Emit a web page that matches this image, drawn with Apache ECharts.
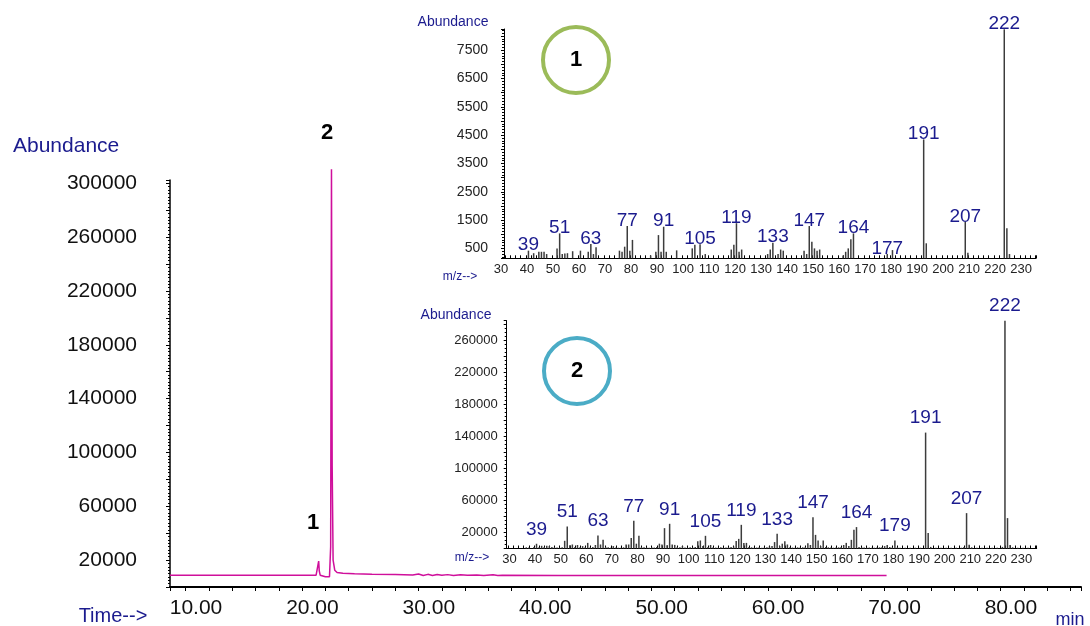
<!DOCTYPE html>
<html>
<head>
<meta charset="utf-8">
<title>GC-MS</title>
<script src="https://cdn.jsdelivr.net/npm/echarts@6/dist/echarts.min.js"></script>
<style>
  html, body { margin: 0; padding: 0; background: #fff; }
  #chart { width: 1090px; height: 626px; }
</style>
</head>
<body>
<div id="chart"></div>
<script>
// total ion chromatogram: retention time (min) / abundance
const rtMin = [6.65, 12, 19.2, 19.35, 19.42, 19.47, 19.55, 19.7, 20.0, 20.35, 20.45, 20.52, 20.58, 20.66, 20.8, 21.0, 21.5, 22.5, 24, 26, 27.5, 28, 28.4, 28.8, 29.2, 29.6, 30, 30.5, 31, 31.6, 32.2, 33, 33.6, 34.4, 34.8, 35.2, 40, 50, 60, 68.2]
const tic = [8800, 8800, 8800, 9500, 19200, 12000, 8800, 7700, 7600, 7600, 30000, 310400, 90000, 20000, 12500, 10800, 10200, 9800, 9500, 9200, 9000, 9600, 8500, 9400, 8600, 9300, 8700, 9200, 8600, 9100, 8700, 9000, 8500, 9100, 8600, 8700, 8600, 8600, 8500, 8500]

// mass spectrum of peak 1
const ms1Mz = [39, 41, 43, 44, 45, 46, 50, 51, 52, 53, 54, 56, 59, 62, 63, 64, 65, 74, 75, 76, 77, 78, 79, 86, 88, 89, 90, 91, 92, 96, 102, 103, 105, 107, 117, 118, 119, 120, 121, 131, 132, 133, 135, 136, 137, 145, 146, 147, 148, 149, 150, 151, 160, 161, 162, 163, 164, 177, 179, 191, 192, 207, 208, 222, 223, 224]
const ms1Abund = [420, 330, 380, 380, 380, 300, 500, 1030, 300, 320, 330, 400, 420, 380, 655, 300, 540, 420, 380, 560, 1290, 420, 800, 250, 380, 970, 380, 1265, 380, 430, 500, 630, 645, 300, 460, 630, 1390, 380, 460, 300, 460, 700, 300, 460, 420, 420, 300, 1290, 736, 500, 420, 460, 250, 380, 500, 820, 1030, 300, 440, 4350, 680, 1440, 350, 8240, 1210, 300]
const ms1Labels = [39, 51, 63, 77, 91, 105, 119, 133, 147, 164, 177, 191, 207, 222]

// mass spectrum of peak 2
const ms2Mz = [35, 36, 38, 39, 40, 41, 42, 43, 44, 45, 46, 47, 48, 49, 50, 51, 52, 53, 54, 55, 56, 57, 58, 59, 60, 61, 62, 63, 64, 65, 66, 67, 68, 69, 70, 71, 72, 73, 74, 75, 76, 77, 78, 79, 80, 81, 82, 83, 84, 85, 86, 87, 88, 89, 90, 91, 92, 93, 94, 95, 96, 97, 98, 99, 100, 101, 102, 103, 104, 105, 106, 107, 108, 109, 110, 111, 112, 113, 114, 115, 116, 117, 118, 119, 120, 121, 122, 123, 124, 125, 126, 127, 128, 129, 130, 131, 132, 133, 134, 135, 136, 137, 138, 139, 140, 141, 142, 143, 144, 145, 146, 147, 148, 149, 150, 151, 152, 153, 154, 155, 156, 157, 158, 159, 160, 161, 162, 163, 164, 165, 166, 167, 168, 169, 170, 171, 172, 173, 174, 175, 176, 177, 178, 179, 180, 181, 183, 185, 187, 189, 191, 192, 193, 195, 197, 199, 201, 203, 205, 206, 207, 208, 209, 211, 213, 215, 217, 219, 221, 222, 223, 224, 225, 227, 229, 231]
const ms2Abund = [1500, 1200, 2000, 5900, 1500, 3400, 1800, 3400, 3000, 2000, 1500, 1200, 1000, 1500, 9600, 27400, 4000, 5000, 2000, 4400, 1500, 3000, 1500, 7000, 1500, 2000, 4400, 16200, 5000, 10800, 2000, 1500, 1000, 3000, 1200, 1000, 1000, 1500, 5000, 5000, 13000, 34500, 6000, 15800, 2000, 1500, 1200, 1000, 1500, 1200, 2000, 6000, 5000, 25400, 4000, 30800, 5000, 4500, 2000, 1500, 3000, 1200, 1000, 1500, 1200, 2000, 9000, 10000, 3000, 15800, 2000, 4400, 1500, 1200, 1000, 1500, 1000, 1200, 1500, 2000, 2500, 9500, 12000, 29500, 7000, 7000, 2000, 1500, 1000, 1200, 1500, 1000, 1200, 1500, 2500, 3000, 8000, 18300, 3000, 6000, 9000, 5000, 1500, 1200, 1000, 1500, 1200, 1500, 2000, 6500, 4400, 39100, 17000, 10000, 3000, 10000, 2000, 1500, 1200, 1000, 1200, 1500, 2000, 4400, 7000, 3000, 10800, 23300, 26700, 2000, 1500, 1200, 1000, 1200, 1000, 1000, 1200, 1500, 2000, 3000, 4400, 2000, 1500, 10000, 1500, 1000, 1000, 1000, 1000, 1000, 144500, 19200, 2000, 1000, 1000, 1000, 1000, 1000, 1000, 2000, 44100, 4600, 1500, 1000, 1000, 1000, 1000, 1000, 2000, 284000, 37900, 4400, 1500, 1000, 1000, 1000]
const ms2Labels = [39, 51, 63, 77, 91, 105, 119, 133, 147, 164, 179, 191, 207, 222]

const NAVY = '#1b1b8e'
const FONT = 'Liberation Sans, Arial, sans-serif'

function stickData(mz, ab, labels) {
  return mz.map((m, i) => {
    const item = { value: [m, ab[i]] }
    if (labels.includes(m)) {
      item.label = { show: true, formatter: String(m) }
    }
    return item
  })
}

function every10(v) {
  return Math.abs(v - Math.round(v / 10) * 10) < 1e-6 ? String(Math.round(v)) : ''
}

const chart = echarts.init(document.getElementById('chart'))
chart.setOption({
  animation: false,
  textStyle: { fontFamily: FONT },
  grid: [
    { left: 170, top: 180, width: 911, height: 407 },
    { left: 504, top: 29, width: 532, height: 229.3 },
    { left: 506.7, top: 320.7, width: 530, height: 227.8 }
  ],
  xAxis: [
    {
      gridIndex: 0, type: 'value', min: 6.65, max: 84.9,
      splitNumber: 39, minInterval: 2, maxInterval: 2,
      axisLine: { lineStyle: { color: '#000', width: 2 } },
      axisTick: { length: 4, lineStyle: { color: '#000' } },
      splitLine: { show: false },
      axisLabel: {
        color: '#111', fontSize: 21, margin: 11, padding: [0, 26, 0, 0],
        formatter: v => Math.abs(v - Math.round(v / 10) * 10) < 1e-6 ? v.toFixed(2) : ''
      }
    },
    {
      gridIndex: 1, type: 'value', min: 29.6, max: 234.2,
      splitNumber: 100, minInterval: 2, maxInterval: 2,
      axisLine: { lineStyle: { color: '#000', width: 1 } },
      axisTick: { inside: true, length: 3, lineStyle: { color: '#000' } },
      splitLine: { show: false },
      axisLabel: { color: '#222', fontSize: 13, margin: 5, padding: [0, 8, 0, 0], formatter: every10 }
    },
    {
      gridIndex: 2, type: 'value', min: 27.35, max: 234.4,
      splitNumber: 100, minInterval: 2, maxInterval: 2,
      axisLine: { lineStyle: { color: '#000', width: 1 } },
      axisTick: { inside: true, length: 3, lineStyle: { color: '#000' } },
      splitLine: { show: false },
      axisLabel: { color: '#222', fontSize: 13, margin: 4, padding: [0, 8, 0, 0], formatter: every10 }
    }
  ],
  yAxis: [
    {
      gridIndex: 0, type: 'value', min: 0, max: 302500, interval: 20000,
      axisLine: { show: true, lineStyle: { color: '#000', width: 1.5 } },
      axisTick: { show: true, length: 4, lineStyle: { color: '#000' } },
      minorTick: { show: true, splitNumber: 8, length: 2, lineStyle: { color: '#000' } },
      splitLine: { show: false },
      axisLabel: {
        color: '#111', fontSize: 21, margin: 33,
        formatter: v => (v % 40000 === 20000 ? String(v) : '')
      }
    },
    {
      gridIndex: 1, type: 'value', min: 150, max: 8250,
      splitNumber: 16, minInterval: 500, maxInterval: 500,
      axisLine: { show: true, lineStyle: { color: '#000', width: 1 } },
      axisTick: { show: true, length: 3, lineStyle: { color: '#000' } },
      minorTick: { show: true, splitNumber: 5, length: 2, lineStyle: { color: '#000' } },
      splitLine: { show: false },
      axisLabel: {
        color: '#222', fontSize: 14, margin: 16,
        formatter: v => (v % 1000 === 500 ? String(v) : '')
      }
    },
    {
      gridIndex: 2, type: 'value', min: 0, max: 284000, interval: 20000,
      axisLine: { show: true, lineStyle: { color: '#000', width: 1 } },
      axisTick: { show: true, length: 3, lineStyle: { color: '#000' } },
      minorTick: { show: true, splitNumber: 4, length: 2, lineStyle: { color: '#000' } },
      splitLine: { show: false },
      axisLabel: {
        color: '#222', fontSize: 13, margin: 9,
        formatter: v => (v % 40000 === 20000 ? String(v) : '')
      }
    }
  ],
  series: [
    {
      type: 'line', xAxisIndex: 0, yAxisIndex: 0,
      data: rtMin.map((t, i) => [t, tic[i]]),
      showSymbol: false, clip: false,
      lineStyle: { color: '#cf0f9b', width: 1.5 }
    },
    {
      type: 'bar', xAxisIndex: 1, yAxisIndex: 1,
      data: stickData(ms1Mz, ms1Abund, ms1Labels),
      barWidth: 1.5,
      itemStyle: { color: '#3c3c3c' },
      label: { position: 'top', distance: -4, color: NAVY, fontSize: 19 }
    },
    {
      type: 'bar', xAxisIndex: 2, yAxisIndex: 2,
      data: stickData(ms2Mz, ms2Abund, ms2Labels),
      barWidth: 1.5,
      itemStyle: { color: '#3c3c3c' },
      label: { position: 'top', distance: 5, color: NAVY, fontSize: 19 }
    }
  ],
  graphic: [
    { type: 'text', x: 13, y: 146, style: { text: 'Abundance', fill: NAVY, font: '21px ' + FONT, verticalAlign: 'middle' } },
    { type: 'text', x: 113, y: 616, style: { text: 'Time-->', fill: NAVY, font: '20px ' + FONT, align: 'center', verticalAlign: 'middle' } },
    { type: 'text', x: 1070, y: 620, style: { text: 'min', fill: NAVY, font: '18px ' + FONT, align: 'center', verticalAlign: 'middle' } },
    { type: 'text', x: 453, y: 22, style: { text: 'Abundance', fill: NAVY, font: '14px ' + FONT, align: 'center', verticalAlign: 'middle' } },
    { type: 'text', x: 456, y: 315, style: { text: 'Abundance', fill: NAVY, font: '14px ' + FONT, align: 'center', verticalAlign: 'middle' } },
    { type: 'text', x: 460, y: 277, style: { text: 'm/z-->', fill: NAVY, font: '12px ' + FONT, align: 'center', verticalAlign: 'middle' } },
    { type: 'text', x: 472, y: 558, style: { text: 'm/z-->', fill: NAVY, font: '12px ' + FONT, align: 'center', verticalAlign: 'middle' } },
    { type: 'text', x: 327, y: 133, style: { text: '2', fill: '#000', font: 'bold 22px ' + FONT, align: 'center', verticalAlign: 'middle' } },
    { type: 'text', x: 313, y: 523, style: { text: '1', fill: '#000', font: 'bold 22px ' + FONT, align: 'center', verticalAlign: 'middle' } },
    { type: 'circle', shape: { cx: 576, cy: 60, r: 33 }, style: { fill: 'none', stroke: '#9bbb59', lineWidth: 4 } },
    { type: 'text', x: 576, y: 60, style: { text: '1', fill: '#000', font: 'bold 22px ' + FONT, align: 'center', verticalAlign: 'middle' } },
    { type: 'circle', shape: { cx: 577, cy: 371, r: 33 }, style: { fill: 'none', stroke: '#4bacc6', lineWidth: 4 } },
    { type: 'text', x: 577, y: 371, style: { text: '2', fill: '#000', font: 'bold 22px ' + FONT, align: 'center', verticalAlign: 'middle' } }
  ]
})
</script>
</body>
</html>
